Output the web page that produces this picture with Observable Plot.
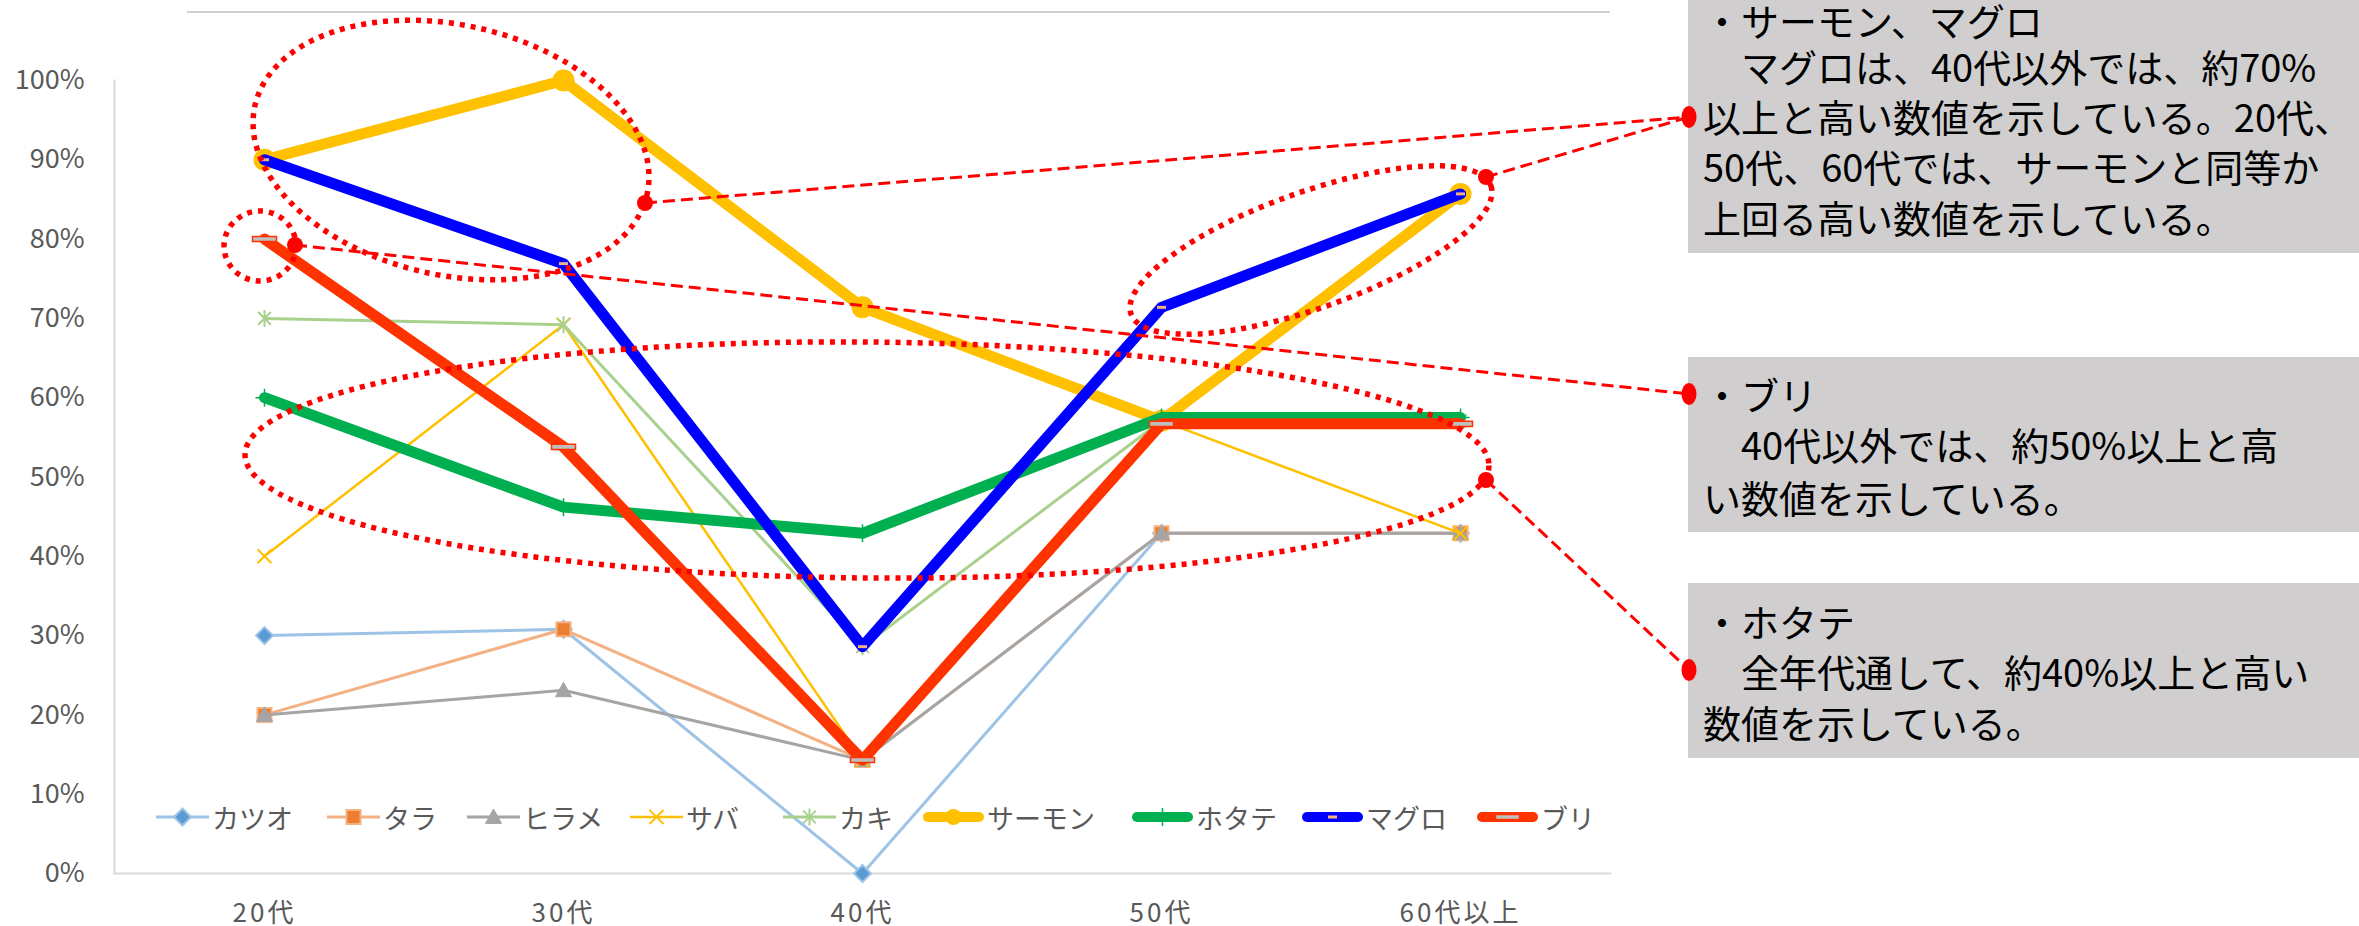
<!DOCTYPE html>
<html>
<head>
<meta charset="utf-8">
<script src="https://cdn.jsdelivr.net/npm/d3@7"></script>
<script src="https://cdn.jsdelivr.net/npm/@observablehq/plot@0.6"></script>
<style>
  html, body { margin: 0; padding: 0; background: #ffffff; overflow: hidden; }
  #chart svg { display: block; }
</style>
</head>
<body>
<div id="chart"></div>
<script>
// ---------------- data ----------------
const ages = ["20代", "30代", "40代", "50代", "60代以上"];
const fishNames = ["カツオ", "タラ", "ヒラメ", "サバ", "カキ", "サーモン", "ホタテ", "マグロ", "ブリ"];
const katsuo = [0.300, 0.308, 0.000, 0.429, 0.429];
const tara   = [0.200, 0.308, 0.143, 0.429, 0.429];
const hirame = [0.200, 0.231, 0.143, 0.429, 0.429];
const saba   = [0.400, 0.692, 0.143, 0.571, 0.429];
const kaki   = [0.700, 0.692, 0.286, 0.571, 0.571];
const salmon = [0.900, 1.000, 0.714, 0.571, 0.857];
const hotate = [0.600, 0.462, 0.429, 0.575, 0.575];
const maguro = [0.900, 0.769, 0.286, 0.714, 0.857];
const buri   = [0.800, 0.538, 0.143, 0.567, 0.567];
const yTicks = [0, 0.1, 0.2, 0.3, 0.4, 0.5, 0.6, 0.7, 0.8, 0.9, 1.0];

const noteSalmonMaguro = [
  "・サーモン、マグロ",
  "　マグロは、40代以外では、約70%",
  "以上と高い数値を示している。20代、",
  "50代、60代では、サーモンと同等か",
  "上回る高い数値を示している。"
];
const noteBuri = [
  "・ブリ",
  "　40代以外では、約50%以上と高",
  "い数値を示している。"
];
const noteHotate = [
  "・ホタテ",
  "　全年代通して、約40%以上と高い",
  "数値を示している。"
];

const seriesValues = [katsuo, tara, hirame, saba, kaki, salmon, hotate, maguro, buri];
const rows = fishNames.flatMap((fish, i) => ages.map((age, j) => ({fish, age, value: seriesValues[i][j]})));

// ---------------- styles ----------------
function shape(fn) { return {draw(ctx, size) { fn(ctx, Math.sqrt(size / Math.PI)); }}; }
const symbols = {
  diamond: shape((c, r) => { c.moveTo(0, -r); c.lineTo(r, 0); c.lineTo(0, r); c.lineTo(-r, 0); c.closePath(); }),
  square: shape((c, r) => { c.rect(-r, -r, 2 * r, 2 * r); }),
  triangle: shape((c, r) => { c.moveTo(0, -r); c.lineTo(r, r * 0.8); c.lineTo(-r, r * 0.8); c.closePath(); }),
  times: shape((c, r) => { c.moveTo(-r, -r); c.lineTo(r, r); c.moveTo(r, -r); c.lineTo(-r, r); }),
  asterisk: shape((c, r) => { const k = r * 0.75; c.moveTo(-k, -k); c.lineTo(k, k); c.moveTo(k, -k); c.lineTo(-k, k); c.moveTo(0, -r); c.lineTo(0, r); }),
  circle: shape((c, r) => { c.moveTo(r, 0); c.arc(0, 0, r, 0, 2 * Math.PI); }),
  plus: shape((c, r) => { c.moveTo(0, -r); c.lineTo(0, r); c.moveTo(-r, 0); c.lineTo(r, 0); }),
  dashS: shape((c, r) => { c.rect(-r, -r * 0.4, 2 * r, r * 0.8); }),
  dashL: shape((c, r) => { c.rect(-r, -r * 0.21, 2 * r, r * 0.42); })
};
const styles = [
  {stroke: "#9DC3E6", width: 3,   sym: "diamond",  r: 8.5, mFill: "#5B9BD5", mStroke: "#9DC3E6", mWidth: 2},
  {stroke: "#F4B183", width: 3,   sym: "square",   r: 7,   mFill: "#ED7D31", mStroke: "#F4B183", mWidth: 2},
  {stroke: "#A5A5A5", width: 3,   sym: "triangle", r: 8,   mFill: "#A5A5A5", mStroke: "#A5A5A5", mWidth: 1},
  {stroke: "#FFC000", width: 2.5, sym: "times",    r: 7,   mFill: "none",    mStroke: "#FFC000", mWidth: 2},
  {stroke: "#A9D18E", width: 3,   sym: "asterisk", r: 8.5, mFill: "none",    mStroke: "#A9D18E", mWidth: 2},
  {stroke: "#FFC000", width: 11,  sym: "circle",   r: 11,  mFill: "#FFC000", mStroke: "none",    mWidth: 0},
  {stroke: "#00B050", width: 11,  sym: "plus",     r: 9,   mFill: "none",    mStroke: "#00B050", mWidth: 1.5},
  {stroke: "#0000FF", width: 11,  sym: "dashS",    r: 5,   mFill: "#F4B183", mStroke: "#0000FF", mWidth: 1},
  {stroke: "#FF3300", width: 11,  sym: "dashL",    r: 12,  mFill: "#BFBFBF", mStroke: "#FF3300", mWidth: 1.5}
];

const FONT = "'Noto Sans CJK JP', 'Noto Sans', sans-serif";
const W = 2359, H = 926;

const seriesMarks = fishNames.flatMap((fish, i) => {
  const s = styles[i];
  const d = rows.filter(r => r.fish === fish);
  return [
    Plot.line(d, {x: "age", y: "value", stroke: s.stroke, strokeWidth: s.width, strokeLinejoin: "round", strokeLinecap: "round"}),
    Plot.dot(d, {x: "age", y: "value", symbol: symbols[s.sym], r: s.r, fill: s.mFill, stroke: s.mStroke, strokeWidth: s.mWidth})
  ];
});

const plot = Plot.plot({
  width: W,
  height: H,
  marginLeft: 114,
  marginRight: W - 1610,
  marginTop: 80,
  marginBottom: H - 873,
  style: {fontFamily: FONT, color: "#595959", background: "#ffffff", overflow: "visible"},
  x: {type: "point", domain: ages, padding: 0.5},
  y: {domain: [0, 1]},
  marks: [
    Plot.frame({anchor: "left", stroke: "#D9D9D9", strokeWidth: 2}),
    Plot.frame({anchor: "bottom", stroke: "#D9D9D9", strokeWidth: 2}),
    Plot.axisY({ticks: yTicks, tickFormat: d3.format(".0%"), tickSize: 0, tickPadding: 30, fontSize: 27, label: null}),
    Plot.axisX({tickSize: 0, tickPadding: 30, fontSize: 26, label: null}),
    ...seriesMarks
  ]
});
document.getElementById("chart").appendChild(plot);

const svg = d3.select(plot);
svg.selectAll('[aria-label="x-axis tick label"] text').style("letter-spacing", "3px");

// chart area top border
svg.append("line").attr("x1", 187).attr("x2", 1610).attr("y1", 12).attr("y2", 12)
  .attr("stroke", "#D0D0D0").attr("stroke-width", 2);

// ---------------- legend ----------------
const legendX = [156, 327, 467, 630, 783, 923, 1132, 1302, 1477];
const legendY = 817;
const lg = svg.append("g").attr("font-family", FONT).attr("text-anchor", "start");
fishNames.forEach((fish, i) => {
  const s = styles[i];
  const thick = s.width > 5;
  const x0 = legendX[i];
  const len = thick ? 61 : 53;
  lg.append("line")
    .attr("x1", thick ? x0 + 5 : x0).attr("x2", thick ? x0 + len - 5 : x0 + len)
    .attr("y1", legendY).attr("y2", legendY)
    .attr("stroke", s.stroke).attr("stroke-width", thick ? 10 : s.width)
    .attr("stroke-linecap", thick ? "round" : "butt");
  const p = d3.path();
  const r = s.sym === "circle" ? 8 : s.r;
  symbols[s.sym].draw(p, r * r * Math.PI);
  lg.append("path").attr("d", p.toString())
    .attr("transform", `translate(${x0 + len / 2},${legendY})`)
    .attr("fill", s.mFill).attr("stroke", s.mStroke).attr("stroke-width", s.mWidth);
  lg.append("text").attr("x", x0 + len + 3).attr("y", legendY)
    .attr("text-anchor", "start")
    .attr("dominant-baseline", "central").attr("font-size", 27).attr("fill", "#595959")
    .text(fish);
});

// ---------------- annotations ----------------
const RED = "#FF0000";
const ann = svg.append("g");
const dotted = {stroke: RED, "stroke-width": 5.5, "stroke-dasharray": "5 6", fill: "none"};
function ellipse(cx, cy, rx, ry, rot) {
  const e = ann.append("ellipse").attr("cx", 0).attr("cy", 0).attr("rx", rx).attr("ry", ry)
    .attr("transform", `translate(${cx},${cy}) rotate(${rot})`);
  Object.entries(dotted).forEach(([k, v]) => e.attr(k, v));
}
ellipse(451, 150, 201, 125, 12.8);
ellipse(260, 246, 36, 35, 0);
ellipse(1311, 250, 191, 58, -19.6);
ellipse(867, 460, 622, 118, 0.5);

// gray note boxes
const boxes = [
  {y0: -6, y1: 253, lines: noteSalmonMaguro, yc: [19, 65, 115, 165, 216]},
  {y0: 357, y1: 532, lines: noteBuri, yc: [393, 443, 496]},
  {y0: 583, y1: 758, lines: noteHotate, yc: [620, 670, 721]}
];
const nb = svg.append("g").attr("font-family", FONT).attr("text-anchor", "start");
boxes.forEach(b => {
  nb.append("rect").attr("x", 1688).attr("y", b.y0).attr("width", W - 1688 + 10).attr("height", b.y1 - b.y0)
    .attr("fill", "#D0CECE");
  b.lines.forEach((t, k) => {
    nb.append("text").attr("x", 1703).attr("y", b.yc[k]).attr("dominant-baseline", "central")
      .attr("text-anchor", "start")
      .attr("font-size", 38).attr("fill", "#000000").text(t);
  });
});

// dashed connectors
const connectors = [
  [[645, 203], [1689, 117]],
  [[1486, 177], [1689, 117]],
  [[295, 245], [1689, 394]],
  [[1486, 480], [1689, 670]]
];
connectors.forEach(([a, b]) => {
  ann.append("line").attr("x1", a[0]).attr("y1", a[1]).attr("x2", b[0]).attr("y2", b[1])
    .attr("stroke", RED).attr("stroke-width", 3).attr("stroke-dasharray", "12 6");
  ann.append("circle").attr("cx", a[0]).attr("cy", a[1]).attr("r", 8).attr("fill", RED);
});
[[1689, 117], [1689, 394], [1689, 670]].forEach(p => {
  svg.append("ellipse").attr("cx", p[0]).attr("cy", p[1]).attr("rx", 7.5).attr("ry", 11).attr("fill", RED);
});
</script>
</body>
</html>
